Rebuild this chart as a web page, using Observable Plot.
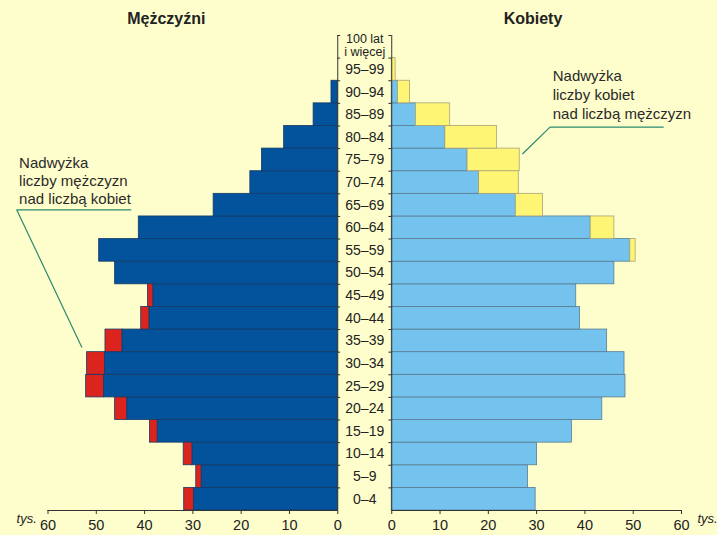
<!DOCTYPE html>
<html><head><meta charset="utf-8">
<script src="https://cdn.jsdelivr.net/npm/d3@7"></script>
<script src="https://cdn.jsdelivr.net/npm/@observablehq/plot@0.6"></script>
<style>
html,body{margin:0;padding:0;background:#FEFECC;}
#chart svg{display:block;}
</style>
</head><body><div id="chart"></div>
<script>
// Age groups, bottom to top
const ageGroups = ["0–4","5–9","10–14","15–19","20–24","25–29","30–34","35–39","40–44","45–49",
  "50–54","55–59","60–64","65–69","70–74","75–79","80–84","85–89","90–94","95–99","100 lat\ni więcej"];
// Population in thousands
const men   = [31.8,29.3,31.9,38.9,46.1,52.1,51.9,48.1,40.7,39.3,46.1,49.4,41.2,25.7,18.1,15.7,11.1,5.0,1.3,0,0];
const women = [29.8,28.2,30.1,37.3,43.6,48.4,48.2,44.6,39.0,38.2,46.1,50.5,46.1,31.3,26.3,26.5,21.8,12.1,3.8,0.8,0];
const xTicks = [0,10,20,30,40,50,60];
const titleMen = "Mężczyźni";
const titleWomen = "Kobiety";
const noteMen = ["Nadwyżka","liczby mężczyzn","nad liczbą kobiet"];
const noteWomen = ["Nadwyżka","liczby kobiet","nad liczbą mężczyzn"];
const unit = "tys.";

const g = 5.59; // half gap for the central label column (in scale units)
const xm = v => -(g + v);
const xw = v => g + v;

const rows = ageGroups.map((age, i) => ({age, i, m: men[i], w: women[i], c: Math.min(men[i], women[i])}));

const C = {blue:"#02529C", red:"#DC241F", lblue:"#74C3EE", yellow:"#FFF574", green:"#2A8A6C"};

const plot = Plot.plot({
  width: 717, height: 535,
  marginLeft: 47.5, marginRight: 36, marginTop: 35, marginBottom: 25,
  x: {domain: [xm(60), xw(60)]},
  y: {domain: [0, 21], axis: null},
  style: {background: "#FEFECC", fontFamily: "'Liberation Sans', Arial, sans-serif", color: "#222", overflow: "visible"},
  marks: [
    // men: common part (blue) + excess (red)
    Plot.rect(rows.filter(d => d.c > 0), {x1: () => xm(0), x2: d => xm(d.c), y1: "i", y2: d => d.i + 1, fill: C.blue, stroke: "#163A66", strokeWidth: 0.8}),
    Plot.rect(rows.filter(d => d.m > d.w), {x1: d => xm(d.w), x2: d => xm(d.m), y1: "i", y2: d => d.i + 1, fill: C.red, stroke: "#163A66", strokeWidth: 0.8}),
    // women: common part (light blue) + excess (yellow)
    Plot.rect(rows.filter(d => d.c > 0), {x1: () => xw(0), x2: d => xw(d.c), y1: "i", y2: d => d.i + 1, fill: C.lblue, stroke: "#5A7C92", strokeWidth: 0.8}),
    Plot.rect(rows.filter(d => d.w > d.m), {x1: d => xw(d.m), x2: d => xw(d.w), y1: "i", y2: d => d.i + 1, fill: C.yellow, stroke: "#A8A47A", strokeWidth: 0.8}),
    // central vertical axis lines with row ticks
    Plot.ruleX([xm(0), xw(0)], {y1: 0, y2: 21, stroke: "#333", strokeWidth: 1}),
    Plot.ruleY(d3.range(1, 22), {x1: xm(0), x2: xm(-0.6), stroke: "#333", strokeWidth: 1}),
    Plot.ruleY(d3.range(1, 22), {x1: xw(-0.6), x2: xw(0), stroke: "#333", strokeWidth: 1}),
    // age labels
    Plot.text(rows.filter(d => d.i < 20), {x: 0, y: d => d.i + 0.5, text: "age", fontSize: 14, fill: "#222"}),
    Plot.text(rows.filter(d => d.i === 20), {x: 0, y: d => d.i + 0.5, text: "age", fontSize: 12.5, lineHeight: 1.08, dy: -1.5, fill: "#222"}),
    // bottom axes
    Plot.ruleY([0], {x1: xm(60), x2: xm(0), stroke: "#333", strokeWidth: 1}),
    Plot.ruleY([0], {x1: xw(0), x2: xw(60), stroke: "#333", strokeWidth: 1}),
    Plot.axisX([...xTicks.map(xm), ...xTicks.map(xw)], {tickSize: 4, tickPadding: 5, fontSize: 14.5, stroke: "#333", fill: "#222",
      tickFormat: d => String(Math.round(Math.abs(d) - g))}),
    Plot.text([unit], {x: xm(66.5), y: -0.57, text: d => d, textAnchor: "start", lineAnchor: "bottom", fontStyle: "italic", fontSize: 13, fill: "#222"}),
    Plot.text([unit], {x: xw(63.3), y: -0.57, text: d => d, textAnchor: "start", lineAnchor: "bottom", fontStyle: "italic", fontSize: 13, fill: "#222"}),
    // titles
    Plot.text([titleMen], {x: xm(35.5), y: 21.53, text: d => d, lineAnchor: "bottom", fontWeight: "bold", fontSize: 16, fill: "#222"}),
    Plot.text([titleWomen], {x: xw(29.25), y: 21.53, text: d => d, lineAnchor: "bottom", fontWeight: "bold", fontSize: 16, fill: "#222"}),
    // annotations
    Plot.text(noteMen, {x: xm(65.98), y: (d, i) => 15.15 - i * 0.81, text: d => d, textAnchor: "start", lineAnchor: "bottom", fontSize: 15, fill: "#2a2a2a"}),
    Plot.line([[xm(42.86), 13.29], [xm(66.46), 13.29], [xm(53.0), 7.22]], {x: d => d[0], y: d => d[1], stroke: C.green, strokeWidth: 1.2}),
    Plot.text(noteWomen, {x: xw(33.33), y: (d, i) => 18.98 - i * 0.84, text: d => d, textAnchor: "start", lineAnchor: "bottom", fontSize: 15, fill: "#2a2a2a"}),
    Plot.line([[xw(56.23), 16.95], [xw(32.77), 16.95], [xw(27.12), 15.77]], {x: d => d[0], y: d => d[1], stroke: C.green, strokeWidth: 1.2})
  ]
});
document.getElementById("chart").appendChild(plot);
</script>
</body></html>
